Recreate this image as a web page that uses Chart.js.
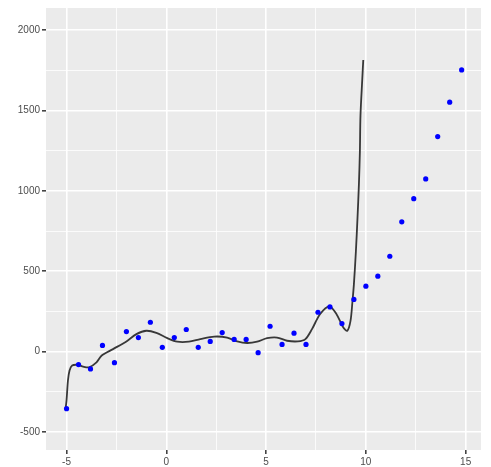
<!DOCTYPE html>
<html>
<head>
<meta charset="utf-8">
<script src="https://cdn.jsdelivr.net/npm/chart.js@4/dist/chart.umd.min.js"></script>
<style>
  html, body { margin: 0; padding: 0; background: #ffffff; }
  #wrap { width: 491px; height: 467px; }
</style>
</head>
<body>
<div id="wrap"><canvas id="c" width="491" height="467"></canvas></div>
<script>
// Observed points (x, y)
const pointX = [-5.0, -4.4, -3.8, -3.2, -2.6, -2.0, -1.4, -0.8, -0.2, 0.4, 1.0, 1.6, 2.2, 2.8, 3.4, 4.0, 4.6, 5.2, 5.8, 6.4, 7.0, 7.6, 8.2, 8.8, 9.4, 10.0, 10.6, 11.2, 11.8, 12.4, 13.0, 13.6, 14.2, 14.8];
const pointY = [-354, -80, -107, 39, -68, 125, 88, 183, 27, 88, 138, 27, 64, 119, 76, 76, -6, 158, 45, 115, 45, 245, 278, 175, 325, 407, 469, 593, 807, 951, 1074, 1337, 1551, 1751];

// Fitted smooth curve (x, y)
const curveX = [-5.05, -5.0, -4.93, -4.85, -4.72, -4.42, -4.17, -3.87, -3.5, -3.25, -2.67, -2.0, -1.5, -1.0, -0.5, 0.05, 0.55, 1.13, 1.7, 2.4, 3.05, 3.55, 4.05, 4.55, 5.05, 5.55, 6.05, 6.6, 6.97, 7.3, 7.7, 8.17, 8.53, 8.87, 9.07, 9.23, 9.33, 9.4, 9.5, 9.58, 9.65, 9.7, 9.73, 9.82, 9.87];
const curveY = [-354, -302, -179, -117, -86, -82, -93, -97, -66, -25, 16, 64, 109, 130, 117, 84, 62, 62, 78, 94, 88, 64, 54, 62, 84, 88, 68, 64, 78, 140, 233, 282, 233, 150, 130, 191, 315, 418, 623, 829, 1035, 1241, 1467, 1693, 1813];

// Axis ticks (major labelled) and minor grid positions
const xTicks = [-5, 0, 5, 10, 15];
const xMinor = [-2.5, 2.5, 7.5, 12.5];
const yTicks = [-500, 0, 500, 1000, 1500, 2000];
const yMinor = [-250, 250, 750, 1250, 1750];

const pointData = pointX.map((x, i) => ({ x: x, y: pointY[i] }));
const curveData = curveX.map((x, i) => ({ x: x, y: curveY[i] }));

const panelBg = {
  id: 'panelBg',
  beforeDraw(chart) {
    const { ctx, chartArea: a } = chart;
    ctx.save();
    ctx.fillStyle = '#EBEBEB';
    ctx.fillRect(a.left, a.top, a.right - a.left, a.bottom - a.top);
    ctx.restore();
  }
};

function isMajor(list, v) {
  return list.some(t => Math.abs(t - v) < 1e-6);
}
function tickList(major, minor) {
  return major.concat(minor).sort((a, b) => a - b).map(v => ({ value: v }));
}

new Chart(document.getElementById('c'), {
  type: 'scatter',
  data: {
    datasets: [
      {
        type: 'scatter',
        label: 'points',
        data: pointData,
        backgroundColor: '#0000FF',
        borderColor: '#0000FF',
        pointRadius: 2.6,
        pointHoverRadius: 2.6,
        borderWidth: 0,
        order: 1
      },
      {
        type: 'line',
        label: 'fit',
        data: curveData,
        borderColor: '#383838',
        borderWidth: 1.8,
        pointRadius: 0,
        fill: false,
        tension: 0.3,
        order: 2
      }
    ]
  },
  plugins: [panelBg],
  options: {
    responsive: false,
    animation: false,
    devicePixelRatio: 1,
    layout: { padding: { top: 5, right: 10, left: 0, bottom: 0 } },
    plugins: {
      legend: { display: false },
      tooltip: { enabled: false }
    },
    scales: {
      x: {
        type: 'linear',
        min: -6.03,
        max: 15.77,
        afterFit: (s) => { s.height = 17; },
        afterBuildTicks: (s) => { s.ticks = tickList(xTicks, xMinor); },
        border: { display: false },
        grid: {
          color: '#FFFFFF',
          lineWidth: (c) => isMajor(xTicks, c.tick.value) ? 1.6 : 0.8,
          tickColor: (c) => isMajor(xTicks, c.tick.value) ? '#444444' : 'rgba(0,0,0,0)',
          tickLength: 4,
          drawTicks: true
        },
        ticks: {
          autoSkip: false,
          maxRotation: 0,
          padding: 2,
          color: '#4D4D4D',
          font: { family: 'Liberation Sans, Arial, sans-serif', size: 10 },
          callback: (v) => isMajor(xTicks, v) ? String(v) : ''
        }
      },
      y: {
        type: 'linear',
        min: -611,
        max: 2136,
        afterFit: (s) => { s.width = 46; },
        afterBuildTicks: (s) => { s.ticks = tickList(yTicks, yMinor); },
        border: { display: false },
        grid: {
          color: '#FFFFFF',
          lineWidth: (c) => isMajor(yTicks, c.tick.value) ? 1.6 : 0.8,
          tickColor: (c) => isMajor(yTicks, c.tick.value) ? '#444444' : 'rgba(0,0,0,0)',
          tickLength: 4,
          drawTicks: true
        },
        ticks: {
          autoSkip: false,
          padding: 2,
          color: '#4D4D4D',
          font: { family: 'Liberation Sans, Arial, sans-serif', size: 10 },
          callback: (v) => isMajor(yTicks, v) ? String(v) : ''
        }
      }
    }
  }
});
</script>
</body>
</html>
